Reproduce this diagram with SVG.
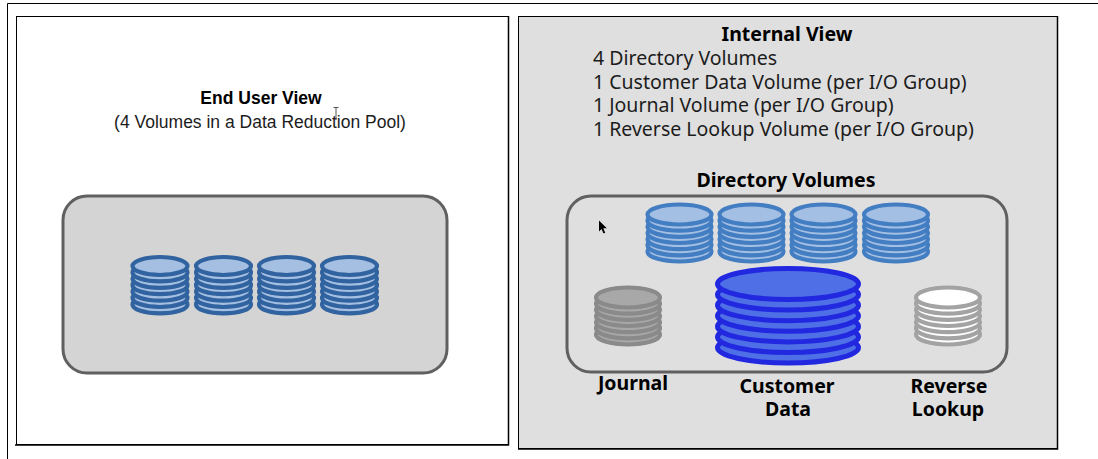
<svg xmlns="http://www.w3.org/2000/svg" width="1098" height="459" viewBox="0 0 1098 459">
<style>
.t{font-family:"Noto Sans","Liberation Sans",sans-serif;fill:#1c1c1c;font-size:19.500px}
.l{font-family:"Liberation Sans",Arial,sans-serif;fill:#1c1c1c;font-size:17.500px}
.b{font-weight:700;fill:#000}
.m{text-anchor:middle}
.frame{stroke:#000;stroke-width:1}
.edge{stroke:#000;stroke-width:1.500;fill:none}
.pool{stroke:#606060;stroke-width:3}
.blue{fill:#a3bfe3;stroke:#437dc2;stroke-width:4.200}
.dark{fill:#a5bfe2;stroke:#30639f;stroke-width:4.200}
.grey{fill:#a8a8a8;stroke:#8a8a8a;stroke-width:4.200}
.white{fill:#fff;stroke:#a3a3a3;stroke-width:4.200}
.big{fill:#4f6fe6;stroke:#2128e0;stroke-width:5}
</style>
<defs>
<g id="cylS">
<ellipse cy="38.400" rx="27.500" ry="9"/><ellipse cy="32" rx="27.500" ry="9"/><ellipse cy="25.600" rx="27.500" ry="9"/><ellipse cy="19.200" rx="27.500" ry="9"/><ellipse cy="12.800" rx="27.500" ry="9"/><ellipse cy="6.400" rx="27.500" ry="9"/><ellipse cy="0" rx="27.500" ry="9"/>
</g>
<g id="cylM">
<ellipse cy="37" rx="32" ry="10"/><ellipse cy="30.800" rx="32" ry="10"/><ellipse cy="24.700" rx="32" ry="10"/><ellipse cy="18.500" rx="32" ry="10"/><ellipse cy="12.300" rx="32" ry="10"/><ellipse cy="6.200" rx="32" ry="10"/><ellipse cy="0" rx="32" ry="10"/>
</g>
<g id="cylL">
<ellipse cy="63.600" rx="70.500" ry="15.500"/><ellipse cy="53" rx="70.500" ry="15.500"/><ellipse cy="42.400" rx="70.500" ry="15.500"/><ellipse cy="31.800" rx="70.500" ry="15.500"/><ellipse cy="21.200" rx="70.500" ry="15.500"/><ellipse cy="10.600" rx="70.500" ry="15.500"/><ellipse cy="0" rx="70.500" ry="15.500"/>
</g>
</defs>
<rect width="1098" height="459" fill="#fff"/>
<path id="outer-frame" class="frame" fill="none" d="M1098 3.500H7.500V459"/>
<g id="end-user-view">
<rect x="16.500" y="16.500" width="492" height="428" class="frame" fill="none"/>
<path class="edge" d="M508.500 16V445H15"/>
<text class="l b m" x="261" y="104">End User View</text>
<text class="l m" x="260" y="128">(4 Volumes in a Data Reduction Pool)</text>
<path d="M333.500 107.500h5M336 107.500V120" stroke="#555" stroke-width="1" fill="none"/>
<rect x="63" y="196" width="384" height="177" rx="24" fill="#d4d4d4" class="pool"/>
<use href="#cylS" class="dark" x="160" y="266"/>
<use href="#cylS" class="dark" x="223.500" y="266"/>
<use href="#cylS" class="dark" x="286.500" y="266"/>
<use href="#cylS" class="dark" x="349.500" y="266"/>
</g>
<g id="internal-view">
<rect x="518.500" y="16.500" width="539" height="432" fill="#dfdfdf" class="frame"/>
<path class="edge" d="M1057.500 16V449H518"/>
<text class="t b m" x="787" y="41">Internal View</text>
<text class="t" x="593" y="65">4 Directory Volumes</text>
<text class="t" x="593" y="89">1 Customer Data Volume (per I/O Group)</text>
<text class="t" x="593" y="112">1 Journal Volume (per I/O Group)</text>
<text class="t" x="593" y="136">1 Reverse Lookup Volume (per I/O Group)</text>
<text class="t b m" x="786" y="187">Directory Volumes</text>
<rect x="567" y="196" width="440" height="176" rx="24" fill="none" class="pool"/>
<path d="M599 220.500V231.500L601.500 229L603.500 233.500L605.200 232.700L603.300 228.300L606.800 228.300Z" fill="#000"/>
<use href="#cylM" class="blue" x="679.500" y="214.500"/>
<use href="#cylM" class="blue" x="751.500" y="214.500"/>
<use href="#cylM" class="blue" x="823.500" y="214.500"/>
<use href="#cylM" class="blue" x="896" y="214.500"/>
<use href="#cylM" class="grey" x="628" y="297.500"/>
<use href="#cylM" class="white" x="948" y="297.500"/>
<use href="#cylL" class="big" x="788" y="284"/>
<text class="t b m" x="633" y="390">Journal</text>
<text class="t b m" x="787" y="393">Customer</text>
<text class="t b m" x="788" y="416">Data</text>
<text class="t b m" x="949" y="393">Reverse</text>
<text class="t b m" x="948" y="416">Lookup</text>
</g>
</svg>
